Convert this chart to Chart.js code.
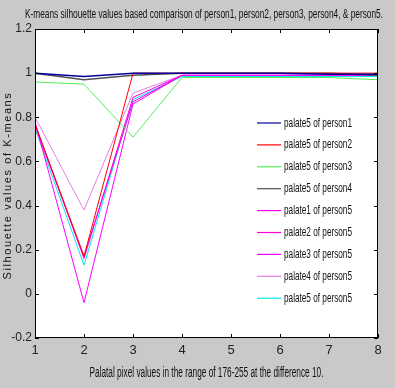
<!DOCTYPE html>
<html><head><meta charset="utf-8">
<script src="https://cdn.jsdelivr.net/npm/chart.js@4.4.1/dist/chart.umd.min.js"></script>
<style>html,body{margin:0;padding:0;background:#c9c9c9;}canvas{display:block;}</style>
</head><body>
<div style="width:395px;height:388px;"><canvas id="c" width="395" height="388"></canvas></div>
<script>
const categories = [1, 2, 3, 4, 5, 6, 7, 8];
const yTicks = [1.2, 1, 0.8, 0.6, 0.4, 0.2, 0, -0.2];
const seriesNames = ["palate5 of person1","palate5 of person2","palate5 of person3","palate5 of person4","palate1 of person5","palate2 of person5","palate3 of person5","palate4 of person5","palate5 of person5"];
const person1 = [1.0, 0.985, 1.0, 1.0, 1.0, 1.0, 0.995, 0.995];
const person2 = [0.77, 0.17, 1.0, 1.0, 1.0, 1.0, 1.0, 1.0];
const person3 = [0.96, 0.95, 0.71, 0.98, 0.98, 0.98, 0.98, 0.97];
const person4 = [1.0, 0.97, 0.99, 1.0, 1.0, 1.0, 1.0, 0.99];
const p5palate1 = [0.78, -0.04, 0.86, 0.99, 0.99, 0.99, 0.99, 0.99];
const p5palate2 = [0.77, 0.16, 0.89, 0.99, 0.99, 0.99, 0.99, 0.99];
const p5palate3 = [0.76, 0.17, 0.87, 0.99, 0.99, 0.99, 0.99, 0.99];
const p5palate4 = [0.80, 0.38, 0.91, 0.99, 0.99, 0.99, 0.99, 0.99];
const p5palate5 = [0.75, 0.13, 0.88, 0.985, 0.985, 0.985, 0.985, 0.985];
const titleText = "K-means silhouette values based comparison of person1, person2, person3, person4, & person5.";
const xTitle = "Palatal pixel values in the range of 176-255 at the difference 10.";
const yTitle = "Silhouette values of K-means";

const allSeries = [person1, person2, person3, person4, p5palate1, p5palate2, p5palate3, p5palate4, p5palate5];
const colors = ["#00009c", "#ff0000", "#55ee55", "#505050", "#ff00ff", "#ff00dd", "#ee00ee", "#e87ee8", "#00e8e8"];
const widths = [1.5, 1, 1, 1.5, 1, 1, 1, 1, 1];

const datasets = allSeries.map((vals, i) => ({
  label: seriesNames[i],
  data: categories.map((c, j) => ({x: c, y: vals[j]})),
  borderColor: colors[i],
  backgroundColor: colors[i],
  borderWidth: widths[i],
  pointRadius: 0,
  tension: 0,
  fill: false
}));

const FONT = "'Liberation Sans Narrow', 'Liberation Sans', Arial, sans-serif";

const deco = {
  id: 'deco',
  beforeDraw(chart) {
    const ctx = chart.ctx, a = chart.chartArea;
    ctx.save();
    ctx.fillStyle = '#c9c9c9';
    ctx.fillRect(0, 0, chart.width, chart.height);
    ctx.fillStyle = '#ffffff';
    ctx.fillRect(a.left, a.top, a.right - a.left, a.bottom - a.top);
    ctx.restore();
  },
  afterDraw(chart) {
    const ctx = chart.ctx, a = chart.chartArea;
    const xs = chart.scales.x, ys = chart.scales.y;
    ctx.save();
    ctx.strokeStyle = '#000';
    ctx.lineWidth = 1;
    ctx.strokeRect(a.left + 0.5, a.top + 0.5, a.right - a.left - 1, a.bottom - a.top - 1);
    ctx.beginPath();
    categories.forEach(c => {
      const px = Math.round(xs.getPixelForValue(c)) + 0.5;
      ctx.moveTo(px, a.bottom); ctx.lineTo(px, a.bottom - 4);
      ctx.moveTo(px, a.top); ctx.lineTo(px, a.top + 4);
    });
    yTicks.forEach(v => {
      const py = Math.round(ys.getPixelForValue(v)) + 0.5;
      ctx.moveTo(a.left, py); ctx.lineTo(a.left + 4, py);
      ctx.moveTo(a.right, py); ctx.lineTo(a.right - 4, py);
    });
    ctx.stroke();

    // legend
    ctx.textBaseline = 'middle';
    ctx.textAlign = 'left';
    ctx.font = "13px " + FONT;
    ctx.fillStyle = '#111';
    const lx0 = a.left + (257 - 35), lx1 = a.left + (281 - 35), tx = a.left + (284 - 35);
    seriesNames.forEach((n, i) => {
      const y = a.top + (123 - 29) + i * 21.9;
      ctx.strokeStyle = colors[i];
      ctx.lineWidth = 1.2;
      ctx.beginPath();
      ctx.moveTo(lx0, y); ctx.lineTo(lx1, y);
      ctx.stroke();
      ctx.fillText(n, tx, y, 68);
    });

    // titles
    ctx.fillStyle = '#111';
    ctx.textAlign = 'center';
    ctx.font = "13px " + FONT;
    ctx.fillText(titleText, 204, 14, 358);
    ctx.font = "14px " + FONT;
    ctx.fillText(xTitle, (a.left + a.right) / 2, 373, 234);
    ctx.translate(8, (a.top + a.bottom) / 2 + 2);
    ctx.rotate(-Math.PI / 2);
    ctx.font = "11px 'Liberation Sans', Arial, sans-serif";
    ctx.letterSpacing = '1.6px';
    ctx.fillText(yTitle, 0, 0, 205);
    ctx.restore();
  }
};

new Chart(document.getElementById('c'), {
  type: 'line',
  data: { datasets },
  plugins: [deco],
  options: {
    responsive: false,
    animation: false,
    devicePixelRatio: 1,
    layout: { padding: { top: 29, right: 17, left: 0, bottom: 0 } },
    plugins: { legend: { display: false }, title: { display: false }, tooltip: { enabled: false } },
    scales: {
      x: {
        type: 'linear', min: 1, max: 8,
        grid: { display: false, drawTicks: false, tickLength: 0 }, border: { display: false },
        afterFit(s) { s.height = 50; },
        afterBuildTicks(s) { s.ticks = categories.map(v => ({ value: v })); },
        ticks: { padding: 5, color: '#222', font: { family: FONT, size: 13 }, maxRotation: 0 }
      },
      y: {
        min: -0.2, max: 1.2,
        grid: { display: false, drawTicks: false, tickLength: 0 }, border: { display: false },
        afterFit(s) { s.width = 35; },
        afterBuildTicks(s) { s.ticks = yTicks.map(v => ({ value: v })); },
        ticks: { padding: 3, color: '#222', font: { family: FONT, size: 12 },
          callback: v => String(Math.round(v * 10) / 10) }
      }
    }
  }
});
</script>
</body></html>
